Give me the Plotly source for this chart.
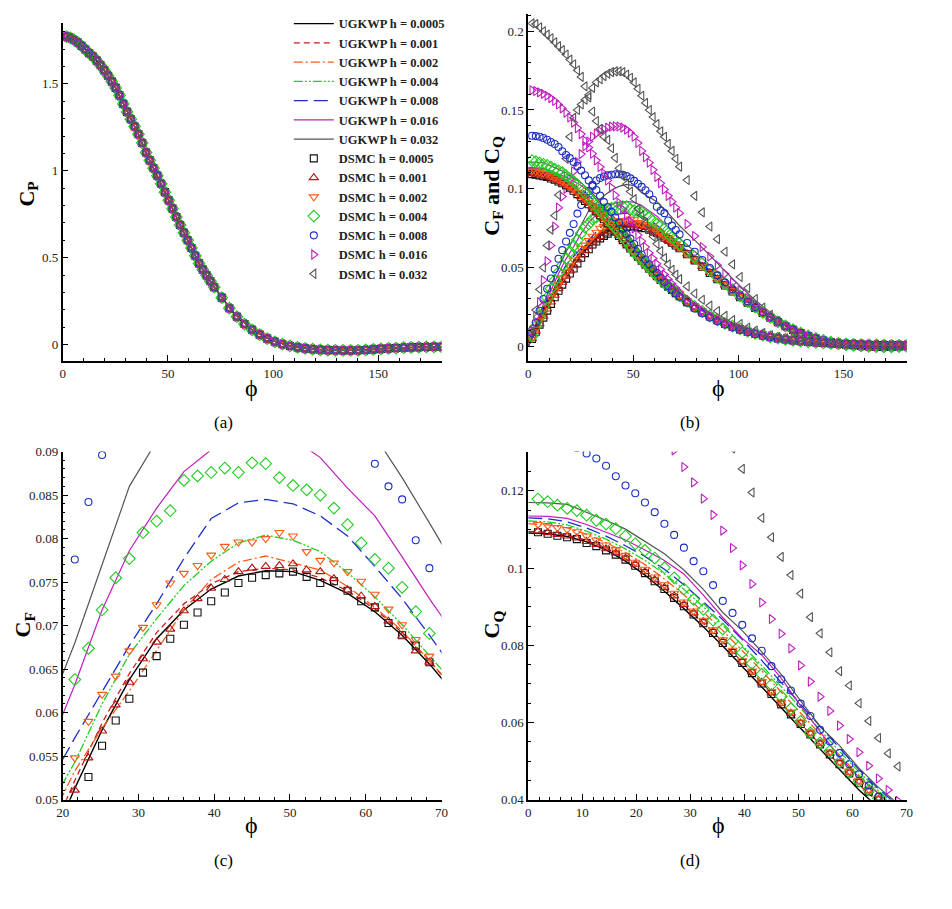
import plotly.graph_objects as go

# ---------------- data ----------------
H_LABELS = ["0.0005", "0.001", "0.002", "0.004", "0.008", "0.016", "0.032"]

PHI_DSMC = [1.8, 3.6, 5.4, 7.2, 9.0, 10.8, 12.6, 14.4, 16.2, 18.0, 19.8, 21.6, 23.4, 25.2, 27.0, 28.8,
            30.6, 32.4, 34.2, 36.0, 37.8, 39.6, 41.4, 43.2, 45.0, 46.8, 48.6, 50.4, 52.2, 54.0, 55.8,
            57.6, 59.4, 61.2, 63.0, 64.8, 66.6, 68.4, 70.2, 72.0, 75.6, 79.2, 82.8, 86.4, 90.0, 93.6,
            97.2, 100.8, 104.4, 108.0, 111.6, 115.2, 118.8, 122.4, 126.0, 129.6, 133.2, 136.8, 140.4,
            144.0, 147.6, 151.2, 154.8, 158.4, 162.0, 165.6, 169.2, 172.8, 176.4, 180.0]

PHI_LINE = [0, 3.6, 7.2, 10.8, 14.4, 18, 21.6, 25.2, 28.8, 32.4, 36, 39.6, 43.2, 46.8, 50.4, 54, 57.6,
            61.2, 64.8, 68.4, 72, 81, 90, 99, 108, 117, 126, 135, 144, 153, 162, 171, 180]

CP_DSMC = [1.772, 1.765, 1.753, 1.738, 1.719, 1.698, 1.676, 1.658, 1.634, 1.607,
           1.578, 1.547, 1.513, 1.477, 1.434, 1.385, 1.339, 1.297, 1.255, 1.210,
           1.160, 1.105, 1.060, 1.015, 0.972, 0.925, 0.877, 0.830, 0.782, 0.734,
           0.688, 0.643, 0.600, 0.556, 0.511, 0.467, 0.431, 0.398, 0.364, 0.330,
           0.270, 0.209, 0.160, 0.118, 0.085, 0.057, 0.034, 0.016, 0.002, -0.008,
           -0.016, -0.022, -0.027, -0.030, -0.032, -0.033, -0.034, -0.034, -0.033, -0.031,
           -0.028, -0.025, -0.022, -0.020, -0.018, -0.016, -0.015, -0.014, -0.013, -0.013]

CP_LINE = [1.775, 1.765, 1.738, 1.698, 1.658, 1.607, 1.547, 1.477, 1.385, 1.297, 1.210, 1.105,
           1.015, 0.925, 0.830, 0.734, 0.643, 0.556, 0.467, 0.398, 0.330, 0.185, 0.085, 0.025,
           -0.008, -0.025, -0.032, -0.034, -0.031, -0.023, -0.018, -0.014, -0.013]

# skin friction C_F (DSMC), units of 1e-4
CF_DSMC_0005 = [46, 92, 137, 182, 226, 269, 311, 352, 391, 429, 462, 494, 526, 562, 591, 616, 646, 665, 685, 701,
                715, 728, 738, 749, 755, 758, 760, 762, 756, 749, 751, 740, 728, 721, 703, 689, 677, 658, 640, 622,
                584, 545, 505, 465, 425, 386, 348, 311, 276, 243, 211, 181, 153, 127, 104, 83, 65, 49, 36, 25,
                16, 10, 6, 2, -2, -4, -5, -4, -2, 0]
CF_DSMC_001 = [48, 96, 143, 190, 236, 281, 324, 366, 406, 444, 478, 511, 548, 579, 609, 635, 662, 681, 696, 717,
               731, 743, 753, 762, 766, 768, 769, 771, 764, 762, 754, 741, 734, 722, 705, 688, 671, 658, 641, 623,
               586, 547, 507, 467, 427, 388, 350, 313, 278, 244, 212, 182, 154, 128, 105, 84, 66, 50, 37, 26,
               17, 10, 6, 2, -1, -3, -4, -4, -2, 0]
CF_DSMC_002 = [54, 108, 161, 212, 261, 308, 352, 394, 434, 472, 510, 548, 590, 621, 642, 671, 698, 724, 749, 760,
               769, 781, 791, 796, 796, 800, 807, 803, 785, 775, 772, 762, 751, 736, 719, 701, 684, 665, 646, 627,
               588, 549, 509, 469, 429, 390, 352, 315, 280, 246, 214, 184, 156, 130, 106, 85, 67, 51, 38, 27,
               18, 11, 6, 2, -1, -3, -4, -4, -2, 0]
CF_DSMC_004 = [63, 126, 188, 249, 308, 365, 418, 468, 514, 558, 600, 638, 674, 718, 755, 777, 807, 820, 832, 867,
               872, 876, 881, 876, 887, 886, 870, 861, 856, 850, 835, 816, 795, 776, 766, 744, 716, 691, 672, 652,
               610, 568, 525, 482, 440, 399, 359, 320, 283, 248, 215, 184, 155, 129, 105, 84, 66, 50, 37, 26,
               17, 11, 6, 2, -1, -3, -4, -4, -2, 0]
CF_DSMC_008 = [85, 150, 225, 300, 365, 430, 490, 555, 610, 665, 720, 776, 842, 896, 940, 985, 1025, 1052, 1068, 1078,
               1085, 1089, 1092, 1092, 1088, 1080, 1066, 1050, 1032, 1012, 990, 965, 930, 886, 860, 845, 798, 766, 738, 710,
               655, 600, 548, 497, 450, 405, 362, 322, 284, 249, 216, 185, 157, 130, 106, 85, 66, 50, 37, 26,
               17, 11, 6, 2, -1, -3, -3, -2, -1, 0]
CF_DSMC_016 = [100, 190, 280, 420, 540, 640, 760, 880, 950, 1000, 1060, 1110, 1170, 1220, 1270, 1300, 1330, 1350, 1365, 1378,
               1388, 1394, 1396, 1395, 1388, 1375, 1355, 1330, 1290, 1240, 1200, 1165, 1120, 1075, 1035, 995, 955, 918, 880, 845,
               775, 700, 630, 570, 515, 460, 405, 355, 305, 262, 222, 187, 155, 127, 102, 80, 62, 47, 35, 25,
               17, 11, 6, 2, 0, -2, -3, -2, -1, 0]
CF_DSMC_032 = [110, 230, 360, 500, 640, 740, 830, 960, 1080, 1190, 1330, 1450, 1500, 1535, 1565, 1595, 1640, 1675, 1695, 1715,
               1730, 1740, 1745, 1745, 1740, 1725, 1705, 1675, 1635, 1590, 1545, 1500, 1455, 1410, 1365, 1330, 1285, 1240, 1190, 1140,
               1055, 955, 850, 760, 680, 600, 520, 440, 370, 300, 245, 200, 160, 125, 95, 70, 52, 38, 28, 20,
               14, 10, 6, 3, 1, 0, -1, -1, 0, 0]

# heat flux C_Q (DSMC), units of 1e-4
CQ_DSMC_0005 = [1093, 1089, 1084, 1080, 1075, 1065, 1057, 1046, 1035, 1022, 1006, 987, 966, 946, 923, 901, 880, 857, 832, 806,
                780, 754, 728, 701, 674, 647, 621, 596, 569, 543, 517, 492, 468, 444, 421, 399, 378, 357, 337, 317,
                280, 246, 216, 189, 165, 143, 124, 107, 92, 79, 68, 58, 50, 43, 37, 32, 28, 24, 21, 18,
                16, 14, 12, 10, 9, 8, 7, 6, 6, 6]
CQ_DSMC_001 = [1096, 1092, 1087, 1083, 1078, 1069, 1061, 1050, 1039, 1026, 1010, 991, 970, 950, 928, 906, 884, 861, 836, 810,
               784, 758, 731, 704, 677, 650, 624, 598, 572, 546, 520, 495, 470, 446, 423, 401, 380, 359, 339, 319,
               282, 248, 218, 190, 166, 144, 125, 108, 93, 80, 68, 58, 50, 43, 37, 32, 28, 24, 21, 18,
               16, 14, 12, 10, 9, 8, 7, 6, 6, 6]
CQ_DSMC_002 = [1113, 1110, 1105, 1100, 1094, 1083, 1073, 1060, 1048, 1033, 1015, 997, 977, 957, 935, 912, 889, 865, 840, 814,
               787, 760, 733, 706, 680, 653, 627, 601, 575, 550, 524, 499, 474, 450, 427, 404, 382, 361, 340, 320,
               284, 250, 219, 191, 167, 145, 126, 109, 94, 81, 69, 59, 51, 44, 38, 33, 28, 24, 21, 18,
               16, 14, 12, 10, 9, 8, 7, 6, 6, 6]
CQ_DSMC_004 = [1179, 1172, 1163, 1155, 1149, 1137, 1124, 1114, 1102, 1083, 1063, 1046, 1026, 1001, 975, 946, 919, 893, 865, 842,
               810, 781, 753, 725, 698, 668, 636, 603, 573, 547, 526, 497, 471, 448, 425, 404, 383, 362, 342, 322,
               286, 252, 221, 193, 168, 146, 127, 110, 95, 82, 70, 60, 51, 44, 38, 33, 28, 24, 21, 18,
               16, 14, 12, 10, 9, 8, 7, 6, 6, 6]
CQ_DSMC_008 = [1336, 1334, 1330, 1322, 1311, 1297, 1284, 1265, 1238, 1214, 1194, 1170, 1145, 1115, 1086, 1053, 1018, 992, 956, 915,
               884, 853, 818, 786, 746, 712, 683, 649, 617, 581, 551, 521, 492, 466, 437, 408, 382, 358, 335, 314,
               276, 240, 209, 182, 158, 138, 120, 104, 90, 78, 67, 58, 50, 43, 37, 32, 28, 24, 21, 18,
               16, 14, 12, 10, 9, 8, 7, 6, 6, 6]
CQ_DSMC_016 = [1625, 1620, 1612, 1602, 1590, 1575, 1557, 1535, 1510, 1482, 1452, 1420, 1385, 1347, 1305, 1262, 1222, 1180, 1138, 1097,
               1052, 1007, 959, 911, 868, 830, 792, 748, 706, 667, 630, 592, 557, 523, 488, 455, 425, 397, 370, 345,
               298, 258, 224, 195, 170, 148, 129, 112, 97, 84, 72, 62, 53, 46, 40, 34, 30, 26, 22, 19,
               17, 15, 13, 11, 10, 9, 8, 7, 7, 7]
CQ_DSMC_032 = [2050, 2045, 2025, 2000, 1978, 1955, 1930, 1905, 1880, 1852, 1820, 1790, 1752, 1710, 1650, 1580, 1490, 1430, 1380, 1330,
               1310, 1257, 1196, 1130, 1080, 1029, 982, 934, 873, 831, 782, 733, 696, 650, 604, 560, 520, 486, 455, 426,
               380, 335, 295, 258, 224, 193, 166, 141, 119, 100, 84, 70, 59, 50, 42, 36, 31, 27, 23, 20,
               18, 16, 14, 12, 11, 10, 9, 8, 8, 8]

# UGKWP lines, units of 1e-4
CF_UGKWP_0005 = [0, 95, 188, 278, 362, 440, 513, 580, 638, 685, 718, 742, 757, 763, 762, 752, 737, 716, 689, 656, 619,
                 525, 425, 330, 243, 167, 104, 57, 25, 8, -2, -4, 0]
CF_UGKWP_001 = [0, 97, 192, 284, 370, 450, 522, 588, 645, 692, 725, 748, 762, 766, 764, 755, 740, 719, 692, 660, 623,
                528, 428, 332, 245, 168, 105, 58, 26, 8, -2, -4, 0]
CF_UGKWP_002 = [0, 100, 198, 293, 384, 470, 533, 582, 625, 671, 718, 753, 773, 780, 772, 764, 745, 721, 694, 660, 625,
                530, 430, 334, 246, 169, 106, 58, 26, 8, -2, -4, 0]
CF_UGKWP_004 = [0, 105, 208, 308, 402, 488, 543, 610, 667, 708, 746, 774, 795, 804, 798, 785, 761, 733, 701, 665, 630,
                535, 433, 336, 247, 170, 106, 59, 26, 8, -2, -4, 0]
CF_UGKWP_008 = [0, 110, 220, 325, 425, 515, 571, 624, 677, 725, 777, 823, 841, 845, 840, 826, 803, 768, 731, 689, 645,
                545, 440, 340, 250, 172, 108, 60, 27, 9, -1, -4, 0]
CF_UGKWP_016 = [0, 120, 240, 355, 460, 555, 632, 718, 786, 835, 877, 902, 915, 918, 915, 893, 858, 826, 779, 731, 686,
                580, 470, 362, 265, 180, 112, 62, 28, 9, -1, -4, 0]
CF_UGKWP_032 = [0, 135, 265, 390, 500, 600, 680, 770, 860, 912, 955, 990, 1015, 1028, 1020, 975, 945, 918, 870, 818, 765,
                650, 530, 405, 292, 196, 120, 65, 29, 9, -1, -4, 0]

CQ_UGKWP_0005 = [1091, 1089, 1082, 1068, 1047, 1018, 982, 940, 895, 848, 798, 746, 692, 638, 584, 530, 478, 425, 378, 334, 294,
                 212, 150, 103, 70, 48, 34, 24, 17, 12, 9, 7, 6]
CQ_UGKWP_001 = [1095, 1093, 1086, 1072, 1052, 1024, 989, 948, 904, 858, 809, 757, 704, 650, 596, 542, 490, 439, 391, 347, 306,
                220, 155, 106, 72, 49, 35, 24, 17, 12, 9, 7, 6]
CQ_UGKWP_002 = [1115, 1112, 1104, 1088, 1066, 1040, 1009, 972, 931, 886, 838, 787, 734, 679, 624, 569, 515, 463, 415, 370, 330,
                237, 166, 113, 76, 52, 36, 25, 18, 13, 10, 8, 7]
CQ_UGKWP_004 = [1122, 1120, 1112, 1096, 1075, 1050, 1020, 985, 945, 900, 852, 801, 748, 693, 637, 580, 525, 472, 423, 378, 337,
                242, 169, 115, 78, 53, 37, 26, 18, 13, 10, 8, 7]
CQ_UGKWP_008 = [1130, 1128, 1120, 1104, 1083, 1058, 1030, 997, 957, 913, 866, 815, 761, 705, 647, 590, 533, 478, 428, 383, 342,
                245, 171, 116, 79, 54, 37, 26, 18, 13, 10, 8, 7]
CQ_UGKWP_016 = [1135, 1134, 1129, 1113, 1093, 1073, 1047, 1020, 985, 930, 872, 818, 775, 715, 643, 575, 510, 458, 415, 372, 332,
                240, 170, 117, 80, 55, 38, 26, 18, 13, 10, 8, 7]
CQ_UGKWP_032 = [1170, 1169, 1165, 1145, 1124, 1101, 1068, 1037, 995, 945, 885, 838, 783, 725, 656, 590, 540, 482, 432, 390, 352,
                255, 180, 123, 84, 57, 39, 27, 19, 14, 11, 9, 8]

SCALE = 1e-4

CF_DSMC = [CF_DSMC_0005, CF_DSMC_001, CF_DSMC_002, CF_DSMC_004, CF_DSMC_008, CF_DSMC_016, CF_DSMC_032]
CQ_DSMC = [CQ_DSMC_0005, CQ_DSMC_001, CQ_DSMC_002, CQ_DSMC_004, CQ_DSMC_008, CQ_DSMC_016, CQ_DSMC_032]
CF_UGKWP = [CF_UGKWP_0005, CF_UGKWP_001, CF_UGKWP_002, CF_UGKWP_004, CF_UGKWP_008, CF_UGKWP_016, CF_UGKWP_032]
CQ_UGKWP = [CQ_UGKWP_0005, CQ_UGKWP_001, CQ_UGKWP_002, CQ_UGKWP_004, CQ_UGKWP_008, CQ_UGKWP_016, CQ_UGKWP_032]

# ---------------- styles ----------------
LINE_COLORS = ["#000000", "#cc1a1a", "#ff5a14", "#22cc22", "#1c2ec4", "#c01cc0", "#555555"]
MARK_COLORS = ["#111111", "#b51414", "#ff5a14", "#1fcc1f", "#1c2ec4", "#c01cc0", "#555555"]
DASHES = ["solid", "6px,4px", "9px,3px,2px,3px", "9px,2px,2px,2px,2px,2px", "14px,6px", "solid", "solid"]
LWIDTH = [1.4, 1.3, 1.3, 1.3, 1.3, 1.2, 1.2]
SYMBOLS = ["square-open", "triangle-up-open", "triangle-down-open", "diamond-open",
           "circle-open", "triangle-right-open", "triangle-left-open"]
MSIZE = [7, 8, 8, 9, 7, 8, 8]

SERIF = "Liberation Serif, Times New Roman, DejaVu Serif, serif"

fig = go.Figure()


def sc(v):
    return [x * SCALE for x in v]


def add_lines(xa, ya, ydata_list, scale, legend):
    for i in range(7):
        y = sc(ydata_list[i]) if scale else ydata_list[i]
        fig.add_trace(go.Scatter(
            x=PHI_LINE, y=y, mode="lines", xaxis=xa, yaxis=ya,
            name="UGKWP h = " + H_LABELS[i], showlegend=legend, legendrank=i + 1,
            line=dict(color=LINE_COLORS[i], width=LWIDTH[i], dash=DASHES[i]),
            hoverinfo="skip"))


def add_marks(xa, ya, ydata_list, scale, legend, xmin=None, xmax=None):
    for i in range(7):
        y = sc(ydata_list[i]) if scale else ydata_list[i]
        xs, ys = [], []
        for a, b in zip(PHI_DSMC, y):
            if (xmin is None or a >= xmin) and (xmax is None or a <= xmax):
                xs.append(a)
                ys.append(b)
        fig.add_trace(go.Scatter(
            x=xs, y=ys, mode="markers", xaxis=xa, yaxis=ya,
            name="DSMC h = " + H_LABELS[i], showlegend=legend, legendrank=8 + i,
            marker=dict(symbol=SYMBOLS[i], size=MSIZE[i], color=MARK_COLORS[i],
                        line=dict(width=1.1, color=MARK_COLORS[i])),
            hoverinfo="skip"))


# (a) C_P
add_lines("x", "y", [CP_LINE] * 7, False, True)
add_marks("x", "y", [CP_DSMC] * 7, False, True)
# (b) C_F and C_Q
add_lines("x2", "y2", CF_UGKWP, True, False)
add_lines("x2", "y2", CQ_UGKWP, True, False)
add_marks("x2", "y2", CF_DSMC, True, False)
add_marks("x2", "y2", CQ_DSMC, True, False)
# (c) C_F zoom
add_lines("x3", "y3", CF_UGKWP, True, False)
add_marks("x3", "y3", CF_DSMC, True, False, 20, 70)
# (d) C_Q zoom
add_lines("x4", "y4", CQ_UGKWP, True, False)
add_marks("x4", "y4", CQ_DSMC, True, False, 0, 70)

W, H = 952, 909


def px(xp):
    return xp / W


def py(yp):
    return 1 - yp / H


def axis(dom, rng, dtick, mdtick, anchor, tick0=0):
    return dict(domain=dom, range=rng, anchor=anchor, showline=True, linecolor="black", linewidth=1.6,
                ticks="inside", ticklen=6, tickwidth=1.3, tickcolor="black", tickmode="linear",
                tick0=tick0, dtick=dtick, showgrid=False, zeroline=False, mirror=False,
                tickfont=dict(family=SERIF, size=13, color="#222222"),
                minor=dict(ticks="inside", ticklen=3, tickwidth=1, tickcolor="black", dtick=mdtick, tick0=tick0,
                           showgrid=False))


XL = [px(56.5), px(441)]
XR = [px(529), px(913)]
YT_A = [py(360), py(16)]
YT_B = [py(360), py(7)]
YB = [py(806), py(452)]

fig.update_layout(
    width=W, height=H, margin=dict(l=0, r=0, t=0, b=0),
    paper_bgcolor="white", plot_bgcolor="white",
    xaxis=axis(XL, [0, 180], 50, 10, "y"),
    yaxis=axis(YT_A, [-0.095, 1.852], 0.5, 0.1, "x"),
    xaxis2=axis(XR, [0, 180], 50, 10, "y2"),
    yaxis2=axis(YT_B, [-0.0094, 0.211], 0.05, 0.01, "x2"),
    xaxis3=axis(XL, [20, 70], 10, 2, "y3"),
    yaxis3=axis(YB, [0.05, 0.09], 0.005, 0.001, "x3"),
    xaxis4=axis(XR, [0, 70], 10, 2, "y4"),
    yaxis4=axis(YB, [0.04, 0.1302], 0.02, 0.005, "x4"),
    legend=dict(x=px(286), y=py(2), xanchor="left", yanchor="top",
                font=dict(family=SERIF, size=12.5, color="#222222", weight="bold"),
                bgcolor="rgba(0,0,0,0)", tracegroupgap=0, itemwidth=40),
)

ann = []


def label(text, xp, yp, size, angle=0, bold=False):
    ann.append(dict(text=("<b>" + text + "</b>") if bold else text, x=px(xp), y=py(yp), xref="paper", yref="paper",
                    showarrow=False, textangle=angle, xanchor="center", yanchor="middle",
                    font=dict(family=SERIF, size=size, color="black")))


label("C<sub>P</sub>", 21, 190, 22, -90, True)
label("C<sub>F</sub> and C<sub>Q</sub>", 493, 182, 22, -90, True)
label("C<sub>F</sub>", 17, 628, 22, -90, True)
label("C<sub>Q</sub>", 493, 628, 22, -90, True)
for xp, yp in [(248, 387), (722, 387), (248, 832), (722, 832)]:
    label("\u03d5", xp, yp, 24)
for t, xp, yp in [("(a)", 220, 422), ("(b)", 693, 422), ("(c)", 220, 868), ("(d)", 693, 868)]:
    label(t, xp, yp, 17)

fig.update_layout(annotations=ann)
fig.write_html("out.html")
